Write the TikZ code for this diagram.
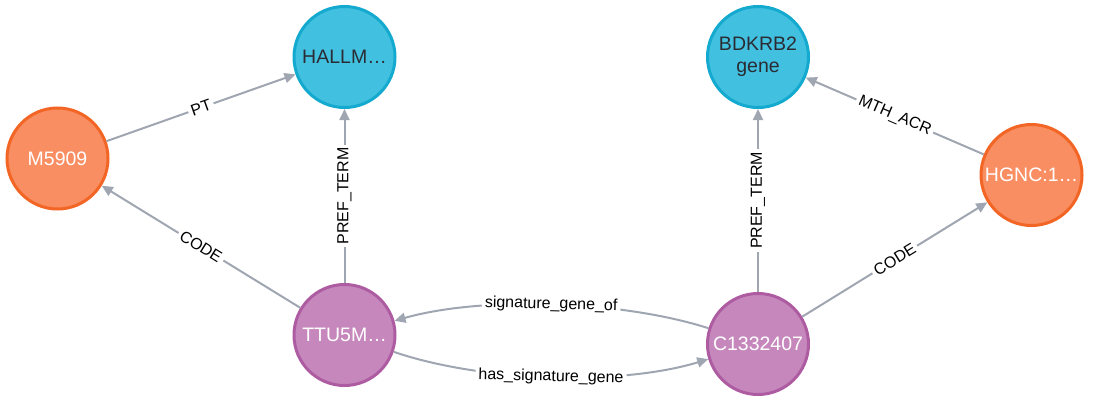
\documentclass[tikz,border=0pt]{standalone}
\usepackage{fontspec}
\setmainfont{Liberation Sans}
\usetikzlibrary{arrows.meta}
\definecolor{orfill}{HTML}{F98E62}
\definecolor{orline}{HTML}{F26524}
\definecolor{blfill}{HTML}{42C0DF}
\definecolor{blline}{HTML}{14A9CE}
\definecolor{pufill}{HTML}{C688BC}
\definecolor{puline}{HTML}{AE5CA2}
\definecolor{edgecol}{HTML}{A0A6B1}
\definecolor{darktext}{HTML}{2A2C34}
\begin{document}
\begin{tikzpicture}[x=1pt,y=-1pt,
  gnode/.style={circle,minimum size=101pt,inner sep=0pt,line width=3pt,outer sep=1.5pt,
    font=\fontsize{19.5}{22}\selectfont,align=center},
  onode/.style={gnode,fill=orfill,draw=orline,text=white},
  bnode/.style={gnode,fill=blfill,draw=blline,text=darktext},
  pnode/.style={gnode,fill=pufill,draw=puline,text=white},
  rel/.style={draw=edgecol,line width=2pt,-{Triangle[length=11pt,width=10pt]}},
  lbl/.style={fill=white,inner sep=3pt,text=black,font=\fontsize{16}{18}\selectfont,sloped}
]
\useasboundingbox (0,0) rectangle (1099,415);

\node[onode] (m5909) at (57.5,158.5) {M5909};
\node[bnode] (hallm) at (344.5,57) {HALLM…};
\node[bnode] (bdkrb2) at (758,57) {BDKRB2\\gene};
\node[onode] (hgnc) at (1031.5,175) {HGNC:1…};
\node[pnode] (ttu) at (344.5,335) {TTU5M…};
\node[pnode] (c133) at (758,344) {C1332407};

\draw[rel] (m5909) -- node[lbl] {PT} (hallm);
\draw[rel] (ttu) -- node[lbl] {CODE} (m5909);
\draw[rel] (ttu) -- node[lbl] {PREF\_TERM} (hallm);
\draw[rel] (c133) -- node[lbl] {PREF\_TERM} (bdkrb2);
\draw[rel] (hgnc) -- node[lbl] {MTH\_ACR} (bdkrb2);
\draw[rel] (c133) -- node[lbl] {CODE} (hgnc);
\draw[rel] (c133) .. controls (620,300) and (482,296) .. node[lbl,pos=0.5] {signature\_gene\_of} (ttu);
\draw[rel] (ttu) .. controls (482,382) and (620,386) .. node[lbl,pos=0.5] {has\_signature\_gene} (c133);
\end{tikzpicture}
\end{document}
